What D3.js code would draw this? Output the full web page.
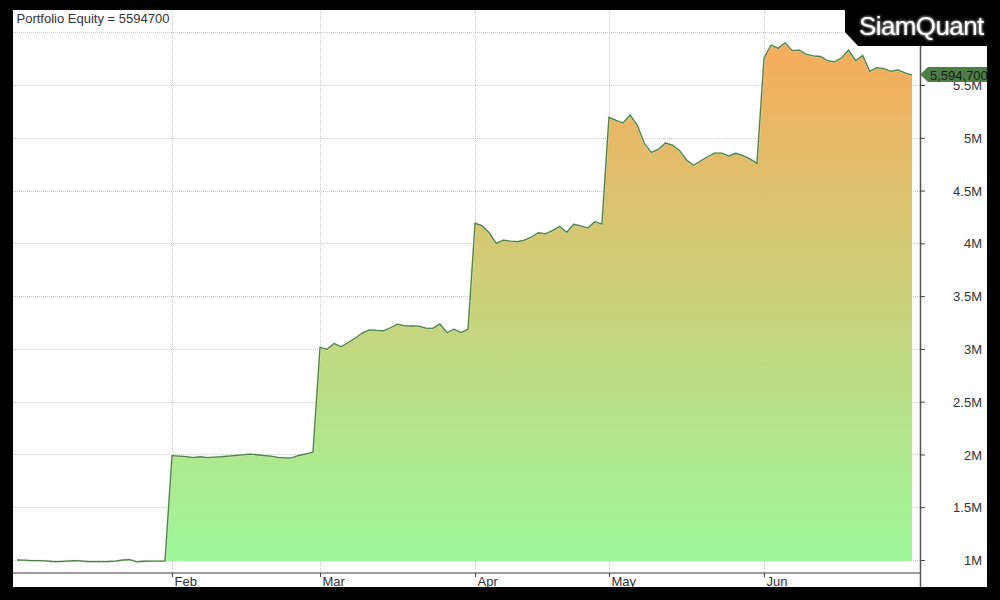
<!DOCTYPE html>
<html>
<head>
<meta charset="utf-8">
<script src="https://cdn.jsdelivr.net/npm/d3@7"></script>
<style>
  html, body { margin: 0; padding: 0; background: #000; }
  svg { display: block; font-family: "Liberation Sans", Arial, sans-serif; }
</style>
</head>
<body>
<script>
// ---- Data (equity in millions, one value per trading day) ----
const janEquity = [1.000, 0.998, 0.995, 0.994, 0.992, 0.986, 0.985, 0.990, 0.993, 0.992, 0.985,
                   0.984, 0.984, 0.986, 0.990, 1.000, 1.004, 0.982, 0.988, 0.990, 0.990, 0.990];
const febEquity = [1.988, 1.985, 1.980, 1.970, 1.978, 1.970, 1.975, 1.978, 1.985, 1.990, 1.995,
                   2.003, 1.997, 1.990, 1.985, 1.972, 1.968, 1.968, 1.990, 2.005, 2.020];
const marEquity = [3.015, 2.996, 3.050, 3.020, 3.060, 3.100, 3.150, 3.180, 3.175, 3.172, 3.200,
                   3.235, 3.218, 3.217, 3.215, 3.197, 3.195, 3.236, 3.153, 3.186, 3.155, 3.186];
const aprEquity = [4.190, 4.165, 4.100, 4.000, 4.030, 4.020, 4.015, 4.030, 4.060, 4.100, 4.090,
                   4.120, 4.160, 4.105, 4.180, 4.165, 4.145, 4.205, 4.183];
const mayEquity = [5.194, 5.165, 5.140, 5.215, 5.120, 4.950, 4.860, 4.890, 4.950, 4.930, 4.880,
                   4.790, 4.740, 4.780, 4.820, 4.855, 4.855, 4.827, 4.853, 4.830, 4.800, 4.755];
const junEquity = [5.753, 5.879, 5.847, 5.900, 5.825, 5.831, 5.790, 5.775, 5.770, 5.730, 5.720,
                   5.755, 5.830, 5.730, 5.780, 5.630, 5.665, 5.655, 5.630, 5.642, 5.615, 5.5947];

const monthStartIndex = [22, 43, 65, 84, 106];
const monthLabels = ["Feb", "Mar", "Apr", "May", "Jun"];
const yTickValues = [1e6, 1.5e6, 2e6, 2.5e6, 3e6, 3.5e6, 4e6, 4.5e6, 5e6, 5.5e6, 6e6];
// the 6M label sits under the brand box in the reference, so it is left blank
const yTickLabels = ["1M", "1.5M", "2M", "2.5M", "3M", "3.5M", "4M", "4.5M", "5M", "5.5M", ""];
const baseValue = 0.99e6;
const titleText = "Portfolio Equity";
const brandText = "SiamQuant";

const equity = [...janEquity, ...febEquity, ...marEquity, ...aprEquity, ...mayEquity, ...junEquity]
  .map(v => Math.round(v * 1e6));
const lastValue = equity[equity.length - 1];

// ---- Layout ----
const W = 1000, H = 600;
const panel = { left: 13, top: 10, right: 987, bottom: 587 };
const axisX = 920, axisY = 573;

const svg = d3.select("body").append("svg").attr("width", W).attr("height", H);

const x = d3.scaleLinear().domain([0, equity.length - 1]).range([17, 912]);
const y = d3.scaleLinear().domain([1e6, 5.5e6]).range([560, 85]);

const defs = svg.append("defs");
const grad = defs.append("linearGradient")
  .attr("id", "eqGrad").attr("gradientUnits", "userSpaceOnUse")
  .attr("x1", 0).attr("x2", 0).attr("y1", y(5.9e6)).attr("y2", y(baseValue));
grad.append("stop").attr("offset", "0%").attr("stop-color", "#f7ab5a");
grad.append("stop").attr("offset", "100%").attr("stop-color", "#9cf89a");

const glow = defs.append("filter").attr("id", "glow")
  .attr("x", "-20%").attr("y", "-40%").attr("width", "140%").attr("height", "180%");
glow.append("feGaussianBlur").attr("in", "SourceGraphic").attr("stdDeviation", 1.6).attr("result", "b");
const fm = glow.append("feMerge");
fm.append("feMergeNode").attr("in", "b");
fm.append("feMergeNode").attr("in", "SourceGraphic");

// white panel
svg.append("rect")
  .attr("x", panel.left).attr("y", panel.top)
  .attr("width", panel.right - panel.left).attr("height", panel.bottom - panel.top)
  .attr("fill", "#fff");

// grid
const grid = svg.append("g").attr("stroke", "#c9c9c9").attr("stroke-width", 1).attr("stroke-dasharray", "1 1");
grid.selectAll("line.h").data(yTickValues).join("line")
  .attr("class", "h")
  .attr("x1", panel.left).attr("x2", axisX)
  .attr("y1", d => Math.round(y(d)) + 0.5).attr("y2", d => Math.round(y(d)) + 0.5);
grid.selectAll("line.v").data(monthStartIndex).join("line")
  .attr("class", "v")
  .attr("x1", d => Math.round(x(d)) + 0.5).attr("x2", d => Math.round(x(d)) + 0.5)
  .attr("y1", panel.top).attr("y2", axisY);

// area + line
const area = d3.area()
  .x((d, i) => x(i)).y0(y(baseValue)).y1(d => y(d));
svg.append("path").datum(equity).attr("d", area).attr("fill", "url(#eqGrad)");

const line = d3.line().x((d, i) => x(i)).y(d => y(d));
svg.append("path").datum(equity).attr("d", line)
  .attr("fill", "none").attr("stroke", "#d8ecd2").attr("stroke-width", 2.4).attr("stroke-opacity", 0.6);
svg.append("path").datum(equity).attr("d", line)
  .attr("fill", "none").attr("stroke", "#4f8047").attr("stroke-width", 1.3);

// x axis
svg.append("line")
  .attr("x1", panel.left).attr("x2", axisX).attr("y1", axisY).attr("y2", axisY)
  .attr("stroke", "#7d7d7d").attr("stroke-width", 1.6);
const xAxis = d3.axisBottom(x).tickValues(monthStartIndex)
  .tickFormat((d, i) => monthLabels[i]).tickSize(4).tickSizeOuter(0);
const gx = svg.append("g").attr("transform", `translate(0,${axisY})`).call(xAxis);
gx.select(".domain").remove();
gx.selectAll(".tick line").attr("stroke", "#444");
gx.selectAll(".tick text")
  .attr("text-anchor", "start").attr("x", 2).attr("y", 12.7).attr("dy", null)
  .attr("font-size", 13).attr("font-family", "Liberation Sans, Arial, sans-serif").attr("fill", "#333");

// y axis (right)
svg.append("line")
  .attr("x1", axisX + 0.5).attr("x2", axisX + 0.5).attr("y1", panel.top).attr("y2", panel.bottom)
  .attr("stroke", "#555").attr("stroke-width", 1.5);
const yAxis = d3.axisRight(y).tickValues(yTickValues)
  .tickFormat((d, i) => yTickLabels[i]).tickSize(5).tickSizeOuter(0);
const gy = svg.append("g").attr("transform", `translate(${axisX},0)`).call(yAxis);
gy.select(".domain").remove();
gy.selectAll(".tick line").attr("stroke", "#444");
gy.selectAll(".tick text")
  .attr("text-anchor", "end").attr("x", 62).attr("dy", "0.35em")
  .attr("font-size", 13).attr("font-family", "Liberation Sans, Arial, sans-serif").attr("fill", "#333");

// last value tag
const ty = y(lastValue);
svg.append("path")
  .attr("d", `M${axisX},${ty - 0.5} L${axisX + 8},${ty - 8} L${W},${ty - 8} L${W},${ty + 7} L${axisX + 8},${ty + 7} Z`)
  .attr("fill", "#4e7e46");
svg.append("text")
  .attr("x", axisX + 10).attr("y", ty).attr("dy", "0.35em")
  .attr("font-size", 13).attr("fill", "#1b1b1b")
  .text(d3.format(",")(lastValue));

// title
svg.append("text")
  .attr("x", 16.5).attr("y", 23)
  .attr("font-size", 13).attr("fill", "#33333d")
  .text(`${titleText} = ${lastValue}`);

// black frame overlays
const frame = svg.append("g").attr("fill", "#000");
frame.append("rect").attr("x", 0).attr("y", 0).attr("width", W).attr("height", panel.top);
frame.append("rect").attr("x", 0).attr("y", panel.bottom).attr("width", W).attr("height", H - panel.bottom);
frame.append("rect").attr("x", 0).attr("y", 0).attr("width", panel.left).attr("height", H);
frame.append("rect").attr("x", panel.right).attr("y", 0).attr("width", W - panel.right).attr("height", H);

// brand box
svg.append("path").attr("d", "M845,0 L845,32 L858,46 L1000,46 L1000,0 Z").attr("fill", "#000");
svg.append("text")
  .attr("x", 859).attr("y", 35)
  .attr("font-size", 26).attr("letter-spacing", -0.6)
  .attr("fill", "#fff").attr("filter", "url(#glow)")
  .text(brandText);
</script>
</body>
</html>
